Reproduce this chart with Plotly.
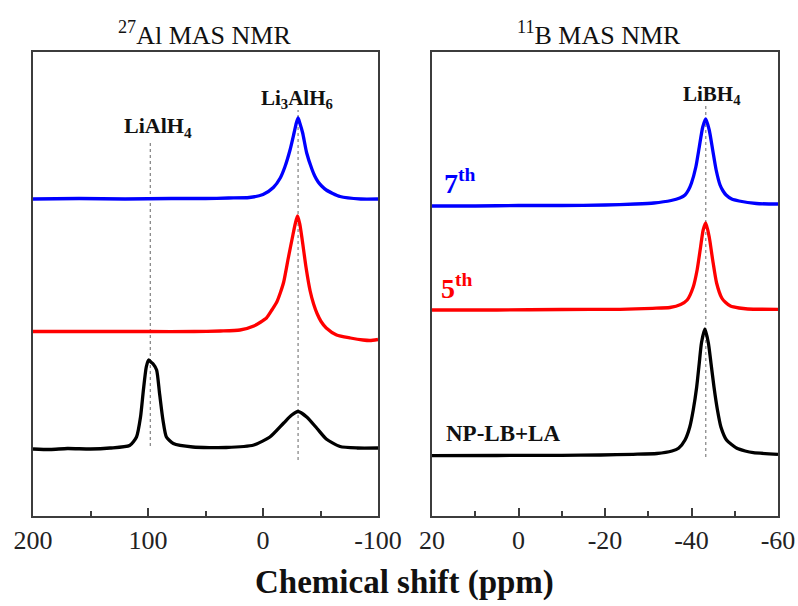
import plotly.graph_objects as go

# ---------------- data ----------------
# 27Al MAS NMR spectra (chemical shift in ppm, intensity in arbitrary units incl. stacking offset)
al_7th_ppm = [200, 160, 120, 80, 50, 30, 12, 0, -9, -15, -19, -23.5, -27, -29, -30.5, -32, -34.5,
              -38, -42.5, -45, -48, -51, -55, -67, -85, -100]
al_7th_int = [317, 317.5, 317, 317.5, 317.5, 318, 318.5, 321.5, 328.5, 338, 349, 366, 383, 393, 398,
              393, 383, 363, 347, 340, 334, 330, 326, 319.5, 317, 317]

al_5th_ppm = [200, 150, 100, 60, 37, 20, 8, -3, -8, -12, -15, -18, -22, -26, -28, -30, -32, -34,
              -37.5, -41, -44, -47, -50.5, -55, -64, -76, -87, -93, -100]
al_5th_int = [184.5, 184.5, 184.5, 184.5, 185, 186, 190, 198, 206.5, 214, 223, 234, 258, 281, 292, 300,
              292, 277, 248, 225, 212, 202.5, 194.5, 188, 181, 178, 176, 175.5, 176.5]

al_np_ppm = [200, 185, 170, 150, 133, 116, 110, 106.5, 104, 101.5, 99.5, 97.5, 95.5, 92.5, 90, 87, 84,
             78, 61, 32, 8, -6, -18, -25, -30.5, -38, -47, -55, -67, -82, -100]
al_np_int = [67, 66.5, 67.5, 67, 68, 70.5, 79, 99, 126, 149, 156, 154, 152, 146, 123, 96, 79, 72.5, 69,
             68.5, 71, 79, 93, 101, 104.5, 99, 87.5, 77, 69.5, 68, 68]

# 11B MAS NMR spectra
b_7th_ppm = [20, 10, 0, -10, -20, -27, -31.3, -35.3, -37.3, -38.5, -39.3, -40, -41, -41.8, -42.6,
             -43.3, -44.1, -44.9, -45.7, -46.6, -47.3, -48, -49.3, -51, -55, -60]
b_7th_int = [310, 310, 310.5, 310.5, 311, 312, 313, 315.5, 318, 321, 326, 333, 349, 369, 389, 397,
             386, 366, 346, 331, 325, 321, 317, 315, 312.5, 312]

b_5th_ppm = [20, 5, -10, -23.5, -31, -35, -37.5, -39, -40.4, -41.3, -42.1, -42.7, -43.3, -44.1, -44.9,
             -45.8, -47, -47.9, -49, -51, -53, -60]
b_5th_int = [206, 206, 206.5, 206.7, 207.7, 208.5, 211.5, 216, 229, 246, 269, 286, 293, 279, 256, 233,
             218, 213.5, 210, 208, 207, 206.7]

b_np_ppm = [20, 5, -10, -19, -26.5, -32, -35.5, -37, -38.5, -39.6, -40.4, -41.2, -41.8, -42.3, -43.1,
            -43.9, -44.5, -45.2, -46, -46.8, -48.1, -50.5, -52.4, -54.3, -60]
b_np_int = [60.3, 60.5, 60.7, 61, 61.7, 62.5, 65, 67.7, 76, 89, 106, 129, 153, 173, 187, 173, 153, 129,
            106, 89, 76, 67.7, 65, 63.3, 61.7]

# reference peak positions (ppm) and the intensity span of their guide lines
al_ref_ppm = [98, -30.5]
al_ref_span = [(70, 373), (56, 406)]
b_ref_ppm = [-43.3]
b_ref_span = [(59, 411)]

# axis ticks
al_major = [200, 100, 0, -100]
al_major_text = ["200", "100", "0", "-100"]
al_minor = [150, 50, -50]
b_major = [20, 0, -20, -40, -60]
b_major_text = ["20", "0", "-20", "-40", "-60"]
b_minor = [10, -10, -30, -50]

# ---------------- figure ----------------
W, H = 798, 606
SERIF = "Liberation Serif, Times New Roman, serif"
FRAME = "#3c3c3c"

fig = go.Figure()


def spectrum(x, y, color, xa, ya):
    fig.add_trace(go.Scatter(
        x=x, y=y, mode="lines", xaxis=xa, yaxis=ya, showlegend=False, hoverinfo="skip",
        line=dict(color=color, width=3.3, shape="spline", smoothing=0.6)))


spectrum(al_7th_ppm, al_7th_int, "#0000ff", "x", "y")
spectrum(al_5th_ppm, al_5th_int, "#ff0000", "x", "y")
spectrum(al_np_ppm, al_np_int, "#000000", "x", "y")
spectrum(b_7th_ppm, b_7th_int, "#0000ff", "x2", "y2")
spectrum(b_5th_ppm, b_5th_int, "#ff0000", "x2", "y2")
spectrum(b_np_ppm, b_np_int, "#000000", "x2", "y2")

shapes = []
for p, (y0, y1) in zip(al_ref_ppm, al_ref_span):
    shapes.append(dict(type="line", xref="x", yref="y", x0=p, x1=p, y0=y0, y1=y1, layer="below",
                       line=dict(color="#808080", width=1.2, dash="dot")))
for p, (y0, y1) in zip(b_ref_ppm, b_ref_span):
    shapes.append(dict(type="line", xref="x2", yref="y2", x0=p, x1=p, y0=y0, y1=y1, layer="below",
                       line=dict(color="#808080", width=1.2, dash="dot")))


def px(x):
    return x / W


def py(y):
    return 1 - y / H


def label(text, x, y, size, color="#111111", xanchor="center"):
    return dict(text=text, x=px(x), y=py(y), xref="paper", yref="paper", showarrow=False,
                xanchor=xanchor, yanchor="middle", font=dict(family=SERIF, size=size, color=color))


annotations = [
    label("<sup>27</sup>Al MAS NMR", 204, 33, 26),
    label("<sup>11</sup>B MAS NMR", 599, 33, 26),
    label("<b>LiAlH<sub>4</sub></b>", 158, 127, 22),
    label("<b>Li<sub>3</sub>AlH<sub>6</sub></b>", 297, 99, 21),
    label("<b>LiBH<sub>4</sub></b>", 712, 95, 21),
    label("<b>7<sup>th</sup></b>", 442, 182, 28, "#0000ff", "left"),
    label("<b>5<sup>th</sup></b>", 439, 286, 28, "#ff0000", "left"),
    label("<b>NP-LB+LA</b>", 444, 433, 23, "#111111", "left"),
    label("<b>Chemical shift (ppm)</b>", 404, 582, 33),
]

ydom = [1 - 516 / H, 1 - 52 / H]


def xaxis(dom, rng, vals, text, minor, anchor):
    return dict(domain=dom, range=rng, anchor=anchor, showgrid=False, zeroline=False,
                automargin=False,
                showline=True, linecolor=FRAME, linewidth=1.8, mirror=True,
                ticks="inside", ticklen=8, tickwidth=1.6, tickcolor=FRAME,
                tickvals=vals, ticktext=text,
                tickfont=dict(family=SERIF, size=26, color="#222222"),
                minor=dict(tickvals=minor, ticks="inside", ticklen=5, tickwidth=1.6,
                           tickcolor=FRAME, showgrid=False))


def yaxis(anchor):
    return dict(domain=ydom, range=[0, 464], anchor=anchor, showgrid=False, zeroline=False,
                automargin=False,
                showticklabels=False, ticks="", showline=True, linecolor=FRAME, linewidth=1.8,
                mirror=True, fixedrange=True)


fig.update_layout(
    width=W, height=H, margin=dict(l=0, r=0, t=0, b=0, autoexpand=False),
    paper_bgcolor="white", plot_bgcolor="white",
    xaxis=xaxis([33 / W, 378 / W], [200, -100], al_major, al_major_text, al_minor, "y"),
    yaxis=yaxis("x"),
    xaxis2=xaxis([432 / W, 778 / W], [20, -60], b_major, b_major_text, b_minor, "y2"),
    yaxis2=yaxis("x2"),
    shapes=shapes, annotations=annotations,
)

fig.write_html("out.html")
